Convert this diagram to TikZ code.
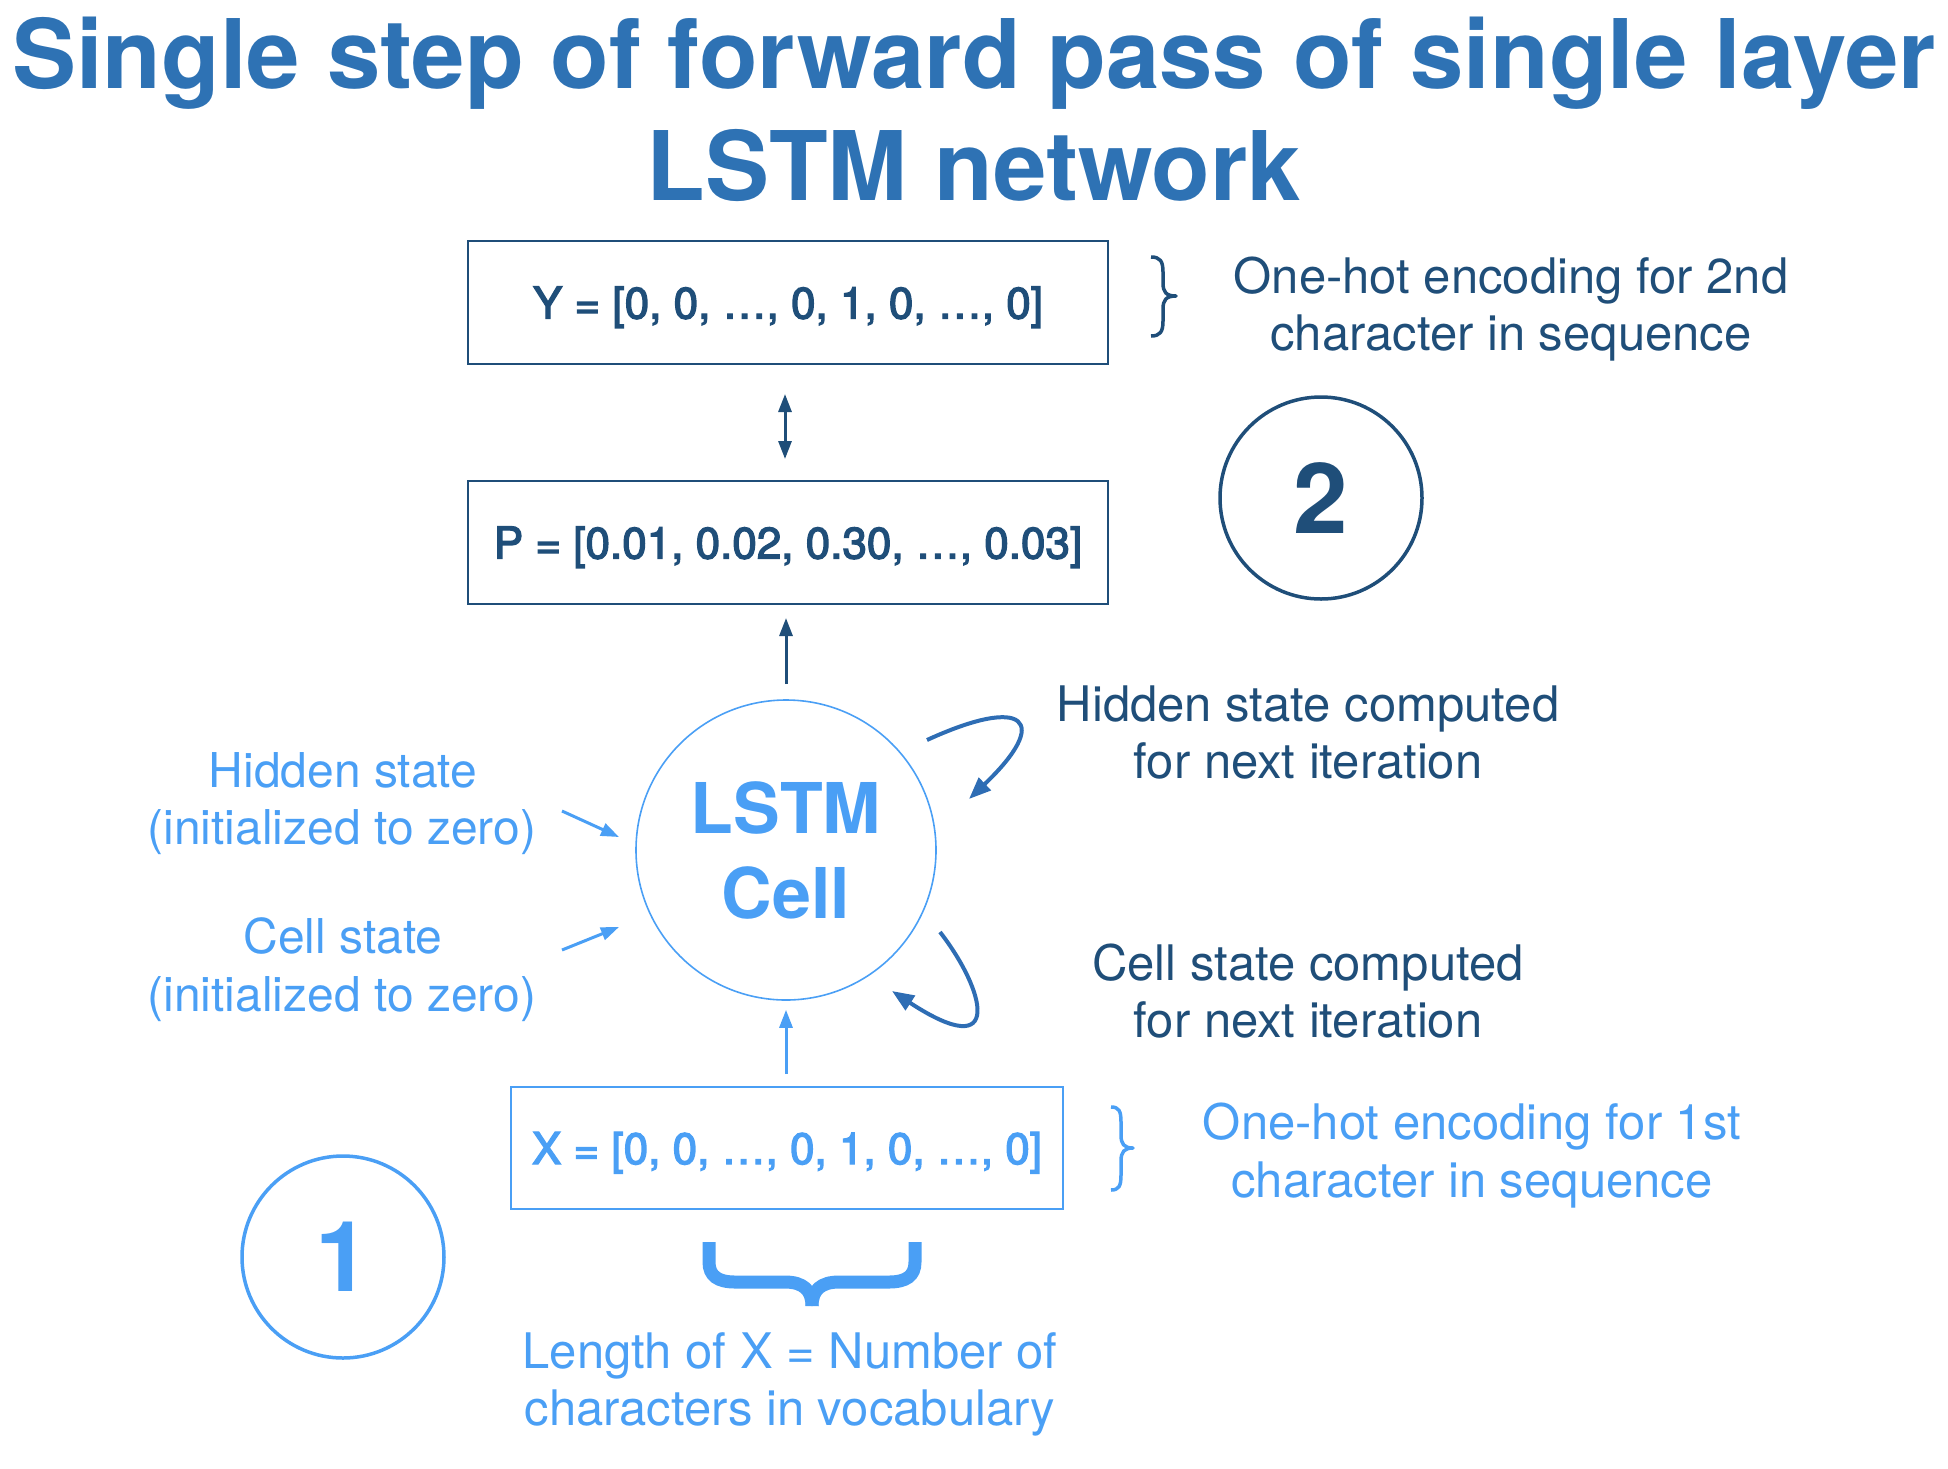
\documentclass[tikz,border=0pt]{standalone}
\usepackage{fontspec}
\setmainfont{TeX Gyre Heros}
\newfontfamily\medfont{TeX Gyre Heros}[FakeBold=3]
\usetikzlibrary{arrows.meta}
\definecolor{dkblue}{RGB}{31,78,121}
\definecolor{ttlblue}{RGB}{46,114,180}
\definecolor{ltblue}{RGB}{74,159,245}
\definecolor{crvblue}{RGB}{46,109,180}
\begin{document}
\begin{tikzpicture}[x=1pt,y=-1pt,
  ttl/.style={inner sep=0pt, anchor=base, text=ttlblue, font=\bfseries\fontsize{96}{110}\selectfont},
  lbl/.style={inner sep=0pt, anchor=base, font=\fontsize{49}{57}\selectfont},
  vecbox/.style={draw, line width=2pt, inner sep=0pt, text depth=0pt, font=\medfont\fontsize{44}{50}\selectfont},
  numcirc/.style={circle, draw, line width=3.5pt, minimum size=202pt, inner sep=0pt, font=\bfseries\fontsize{98}{110}\selectfont},
  arr/.style={line width=3pt, -{Triangle[length=18pt,width=13pt]}},
  darr/.style={line width=3pt, {Triangle[length=18pt,width=13pt]}-{Triangle[length=18pt,width=13pt]}},
  carr/.style={line width=4pt, color=crvblue, -{Triangle[length=22pt,width=17pt]}}
]
\useasboundingbox (0,0) rectangle (1948,1468);

% title
\node[ttl] (t1) at (974,88) {Single step of forward pass of single layer};
\node[ttl] (t2) at (974,200) {LSTM network};

% boxes
\node[vecbox, draw=dkblue, text=dkblue, minimum width=640pt, minimum height=123pt] (Y) at (788,302.5) {Y = [0, 0, …, 0, 1, 0, …, 0]};
\node[vecbox, draw=dkblue, text=dkblue, minimum width=640pt, minimum height=123pt] (P) at (788,542.5) {P = [0.01, 0.02, 0.30, …, 0.03]};
\node[vecbox, draw=ltblue, text=ltblue, line width=1.6pt, minimum width=552pt, minimum height=122pt] (X) at (787,1148) {X = [0, 0, …, 0, 1, 0, …, 0]};

% LSTM cell
\node[circle, draw=ltblue, line width=1.6pt, minimum size=300pt, inner sep=0pt, align=center, text=ltblue,
  font=\bfseries\fontsize{70}{85}\selectfont] (lstm) at (786,850) {LSTM\\Cell};

% numbered circles
\node[numcirc, draw=dkblue, text=dkblue] (two) at (1321,498) {2};
\node[numcirc, draw=ltblue, text=ltblue] (one) at (343,1257) {1};

% vertical connectors
\draw[darr, dkblue, shorten <=29pt, shorten >=21pt] (Y.south -| 785,0) -- (P.north -| 785,0);
\draw[arr, dkblue, shorten <=15pt, shorten >=13pt] (lstm.north) -- (lstm.north |- P.south);
\draw[arr, ltblue, shorten <=12pt, shorten >=9pt] (X.north -| lstm.south) -- (lstm.south);

% left incoming arrows
\coordinate (hsA) at (562,811);
\coordinate (hsB) at (619,837);
\coordinate (csA) at (562,950);
\coordinate (csB) at (619,927);
\draw[arr, ltblue] (hsA) -- (hsB);
\draw[arr, ltblue] (csA) -- (csB);

% curved self arrows
\coordinate (hoA) at (927,740);
\coordinate (hoB) at (969,799);
\coordinate (coA) at (940,932);
\coordinate (coB) at (892,991);
\draw[carr] (hoA) .. controls (1025,695) and (1052,720) .. (hoB);
\draw[carr] (coA) .. controls (985,990) and (1005,1065) .. (coB);

% braces
\draw[dkblue, line width=3.5pt, line join=round] (1151,257) .. controls (1160,257) and (1163,261) .. (1163,272) -- (1163,283)
  .. controls (1163,292) and (1166,296) .. (1176,296)
  .. controls (1166,296) and (1163,300) .. (1163,309) -- (1163,321)
  .. controls (1163,332) and (1160,336) .. (1151,336);
\draw[ltblue, line width=3.5pt, line join=round] (1111,1107) .. controls (1119,1107) and (1121,1111) .. (1121,1122) -- (1121,1135)
  .. controls (1121,1144) and (1124,1148) .. (1133,1148)
  .. controls (1124,1148) and (1121,1152) .. (1121,1161) -- (1121,1175)
  .. controls (1121,1186) and (1119,1190) .. (1111,1190);
\draw[ltblue, line width=13pt] (709,1242) -- (709,1262) .. controls (709,1276) and (718,1282) .. (735,1282) -- (785,1282)
  .. controls (803,1282) and (812,1290) .. (812,1306);
\draw[ltblue, line width=13pt] (915,1242) -- (915,1262) .. controls (915,1276) and (906,1282) .. (889,1282) -- (839,1282)
  .. controls (821,1282) and (812,1290) .. (812,1306);

% labels
\node[lbl, text=dkblue] (y1) at (1511,293) {One-hot encoding for 2nd};
\node[lbl, text=dkblue] (y2) at (1511,350) {character in sequence};
\node[lbl, text=dkblue] (h1) at (1308,721) {Hidden state computed};
\node[lbl, text=dkblue] (h2) at (1308,778) {for next iteration};
\node[lbl, text=dkblue] (c1) at (1308,980) {Cell state computed};
\node[lbl, text=dkblue] (c2) at (1308,1037) {for next iteration};
\node[lbl, text=ltblue] (x1) at (1472,1139) {One-hot encoding for 1st};
\node[lbl, text=ltblue] (x2) at (1472,1197) {character in sequence};
\node[lbl, text=ltblue, font=\fontsize{48}{57}\selectfont] (l1) at (343,787) {Hidden state};
\node[lbl, text=ltblue, font=\fontsize{48}{57}\selectfont] (l2) at (342,844) {(initialized to zero)};
\node[lbl, text=ltblue, font=\fontsize{48}{57}\selectfont] (l3) at (343,953) {Cell state};
\node[lbl, text=ltblue, font=\fontsize{48}{57}\selectfont] (l4) at (342,1011) {(initialized to zero)};
\node[lbl, text=ltblue] (b1) at (790,1368) {Length of X = Number of};
\node[lbl, text=ltblue] (b2) at (790,1425) {characters in vocabulary};
\end{tikzpicture}
\end{document}
